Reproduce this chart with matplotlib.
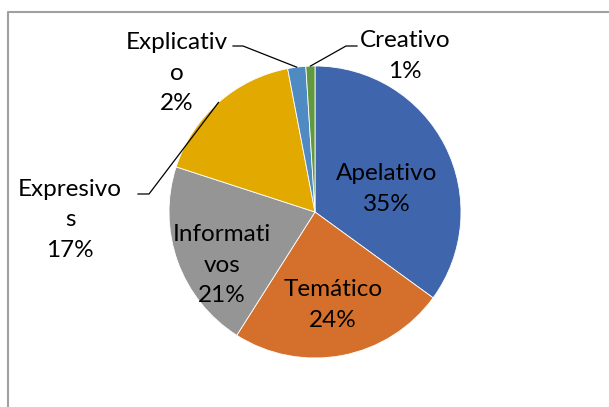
import numpy as np
import matplotlib.pyplot as plt

# data
categories = ["Apelativo", "Temático", "Informativos", "Expresivos", "Explicativo", "Creativo"]
values = [35, 24, 21, 17, 2, 1]
colors = ["#3F65AD", "#D5702C", "#959595", "#E2AA00", "#4F8BC2", "#62993E"]
# how the labels wrap in the original (name split)
label_lines = [["Apelativo"], ["Temático"], ["Informati", "vos"], ["Expresivo", "s"], ["Explicativ", "o"], ["Creativo"]]

W, H = 609, 407
fig = plt.figure(figsize=(W / 100, H / 100), dpi=100)
ax = fig.add_axes([0, 0, 1, 1])

plt.rcParams["font.family"] = ["Lato", "DejaVu Sans"]

cx, cy, r = 315, H - 212, 146
wedges, _ = ax.pie(values, colors=colors, startangle=90, counterclock=False,
                   center=(cx, cy), radius=r, frame=True,
                   wedgeprops=dict(edgecolor="white", linewidth=0.6))
ax.set_xlim(0, W)
ax.set_ylim(0, H)
ax.set_aspect("equal")
ax.axis("off")

# label positions (pixel coords from the top-left)
label_pos = [(387, 189), (333, 305), (222, 265), (70, 220), (177, 73), (405, 56)]
# leader line elbows (pixel coords) for outside labels
elbows = {3: [(138, 194), (149, 194)], 4: [(233, 46), (243, 46)], 5: [(357, 46), (346, 46)]}

total = sum(values)
for i, (w, lines) in enumerate(zip(wedges, label_lines)):
    pct = round(100 * values[i] / total)
    txt = "\n".join(lines + [f"{pct}%"])
    x, y = label_pos[i]
    ax.text(x, H - y, txt, ha="center", va="center", fontsize=17.5,
            color="black", linespacing=1.55)
    if i in elbows:
        ang = np.deg2rad((w.theta1 + w.theta2) / 2)
        px, py = cx + r * np.cos(ang), cy + r * np.sin(ang)
        (x0, y0), (x1, y1) = elbows[i]
        ax.plot([x0, x1, px], [H - y0, H - y1, py], color="black", lw=0.9)

# chart frame (extends past right and bottom edges)
ax.plot([8, 8, W + 5], [-5, H - 12, H - 12], color="#A0A0A0", lw=1.5, clip_on=False)

fig.savefig("out.png", dpi=100)
